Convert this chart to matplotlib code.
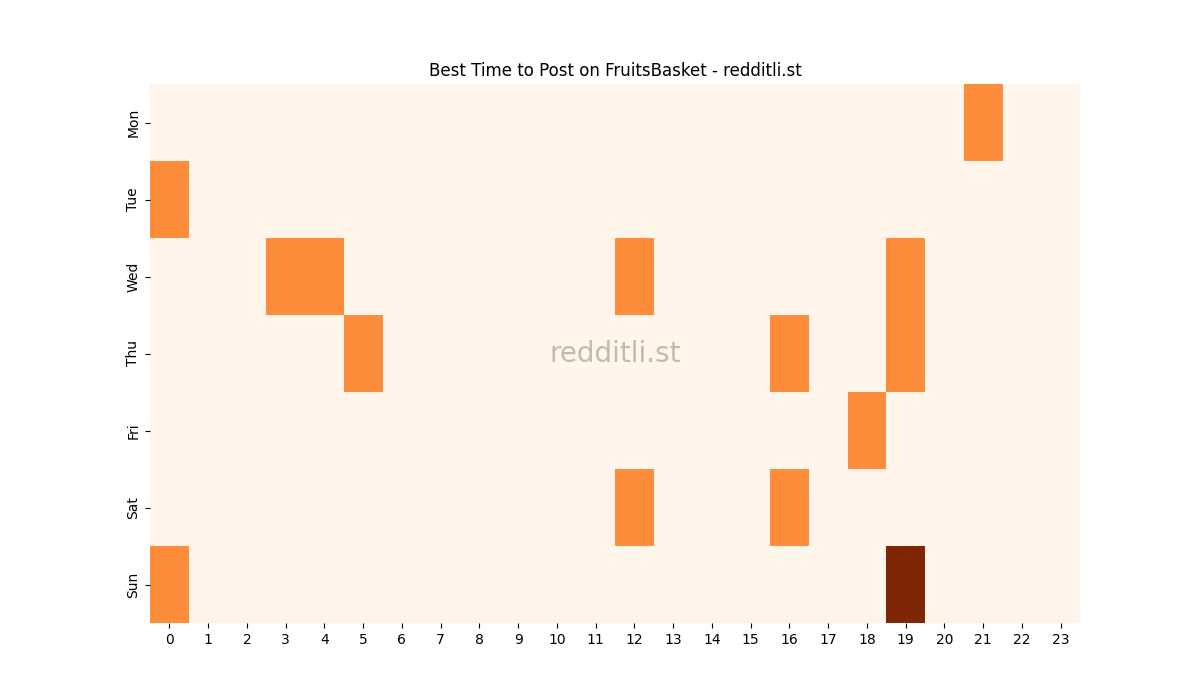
import matplotlib
matplotlib.use("Agg")
import matplotlib.pyplot as plt
import numpy as np
import seaborn as sns

days = ["Mon", "Tue", "Wed", "Thu", "Fri", "Sat", "Sun"]
hours = list(range(24))

# (day, hour, value) for non-zero cells
active_days = ["Mon", "Tue", "Wed", "Wed", "Wed", "Wed", "Thu", "Thu", "Thu", "Fri", "Sat", "Sat", "Sun", "Sun"]
active_hours = [21, 0, 3, 4, 12, 19, 5, 16, 19, 18, 12, 16, 0, 19]
active_values = [1, 1, 1, 1, 1, 1, 1, 1, 1, 1, 1, 1, 1, 2]

grid = np.zeros((len(days), len(hours)))
for d, h, v in zip(active_days, active_hours, active_values):
    grid[days.index(d), hours.index(h)] = v

fig, ax = plt.subplots(figsize=(12, 7), dpi=100)
sns.heatmap(grid, cmap="Oranges", cbar=False, ax=ax,
            xticklabels=hours, yticklabels=days)
ax.set_yticklabels(days, rotation=90, va="center")
ax.set_xticklabels(hours, rotation=0)
ax.set_title("Best Time to Post on FruitsBasket - redditli.st", fontsize=12)
ax.text(0.5, 0.5, "redditli.st", transform=ax.transAxes, ha="center", va="center",
        fontsize=20, color="gray", alpha=0.5)
fig.savefig("out.png", dpi=100)
